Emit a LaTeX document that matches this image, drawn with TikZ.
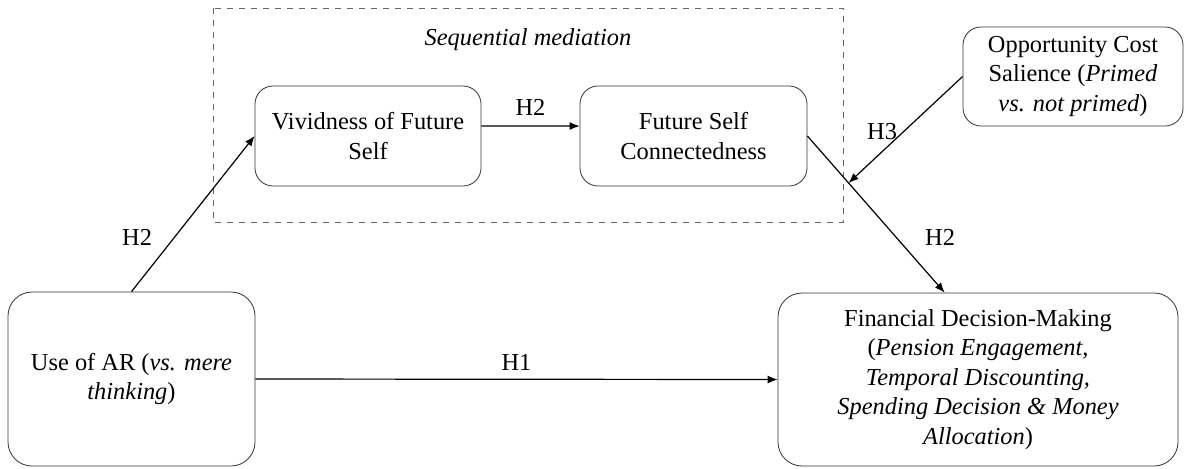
\documentclass[tikz,border=0pt]{standalone}
\usepackage{fontspec}
\setmainfont{Liberation Serif}
\usetikzlibrary{arrows.meta,positioning}

\tikzset{
  box/.style={draw=black!80, rounded corners=9pt, align=center, inner sep=2pt,
    font=\fontsize{12.2}{14.7}\selectfont},
  bigbox/.style={box, rounded corners=12pt},
  link/.style={-{Latex[length=5pt,width=4pt]}, semithick},
  hyp/.style={font=\fontsize{12.2}{14.7}\selectfont, inner sep=2pt},
}

\begin{document}
\begin{tikzpicture}[x=0.5pt, y=-0.5pt]
\useasboundingbox (0,0) rectangle (1186,468);

% Mediation block
\draw[dashed, black!60] (213,8) rectangle (843,222);
\node[hyp, font=\fontsize{12.2}{14.7}\selectfont\itshape] (seq) at (528,40) {Sequential mediation};
\node[box, minimum width=113pt, minimum height=50pt] (viv) at (368,136) {Vividness of Future\\Self};
\node[box, minimum width=113.5pt, minimum height=50pt] (fsc) at (693.5,136) {Future Self\\Connectedness};

% Outer variables
\node[bigbox, minimum width=123.5pt, minimum height=87pt] (ar) at (131.5,379)
  {Use of AR (\textit{vs. mere}\\\textit{thinking})};
\node[bigbox, minimum width=200pt, minimum height=86.5pt] (fin) at (978,379.5)
  {Financial Decision-Making\\(\textit{Pension Engagement,}\\\textit{Temporal Discounting,}\\\textit{Spending Decision \& Money}\\\textit{Allocation})};
\node[box, minimum width=110pt, minimum height=49.5pt] (opp) at (1073,76.5)
  {Opportunity Cost\\Salience (\textit{Primed}\\\textit{vs. not primed})};

% Paths
\draw[link] (ar.north) -- node[hyp, pos=0.35, left=9pt] {H2} (viv.west);
\draw[link] (viv.5) -- node[hyp, above=3pt] {H2} (fsc.175);
\draw[link] (fsc.east) -- coordinate[pos=0.3] (join) node[hyp, pos=0.65, right=12pt] {H2} (fin.111);
\draw[link] (ar.east) -- node[hyp, above=2pt] {H1} (fin.west);
\draw[link] (opp.west) -- node[hyp, pos=0.5, left=2pt, yshift=-1pt] {H3} (join);
\end{tikzpicture}
\end{document}
